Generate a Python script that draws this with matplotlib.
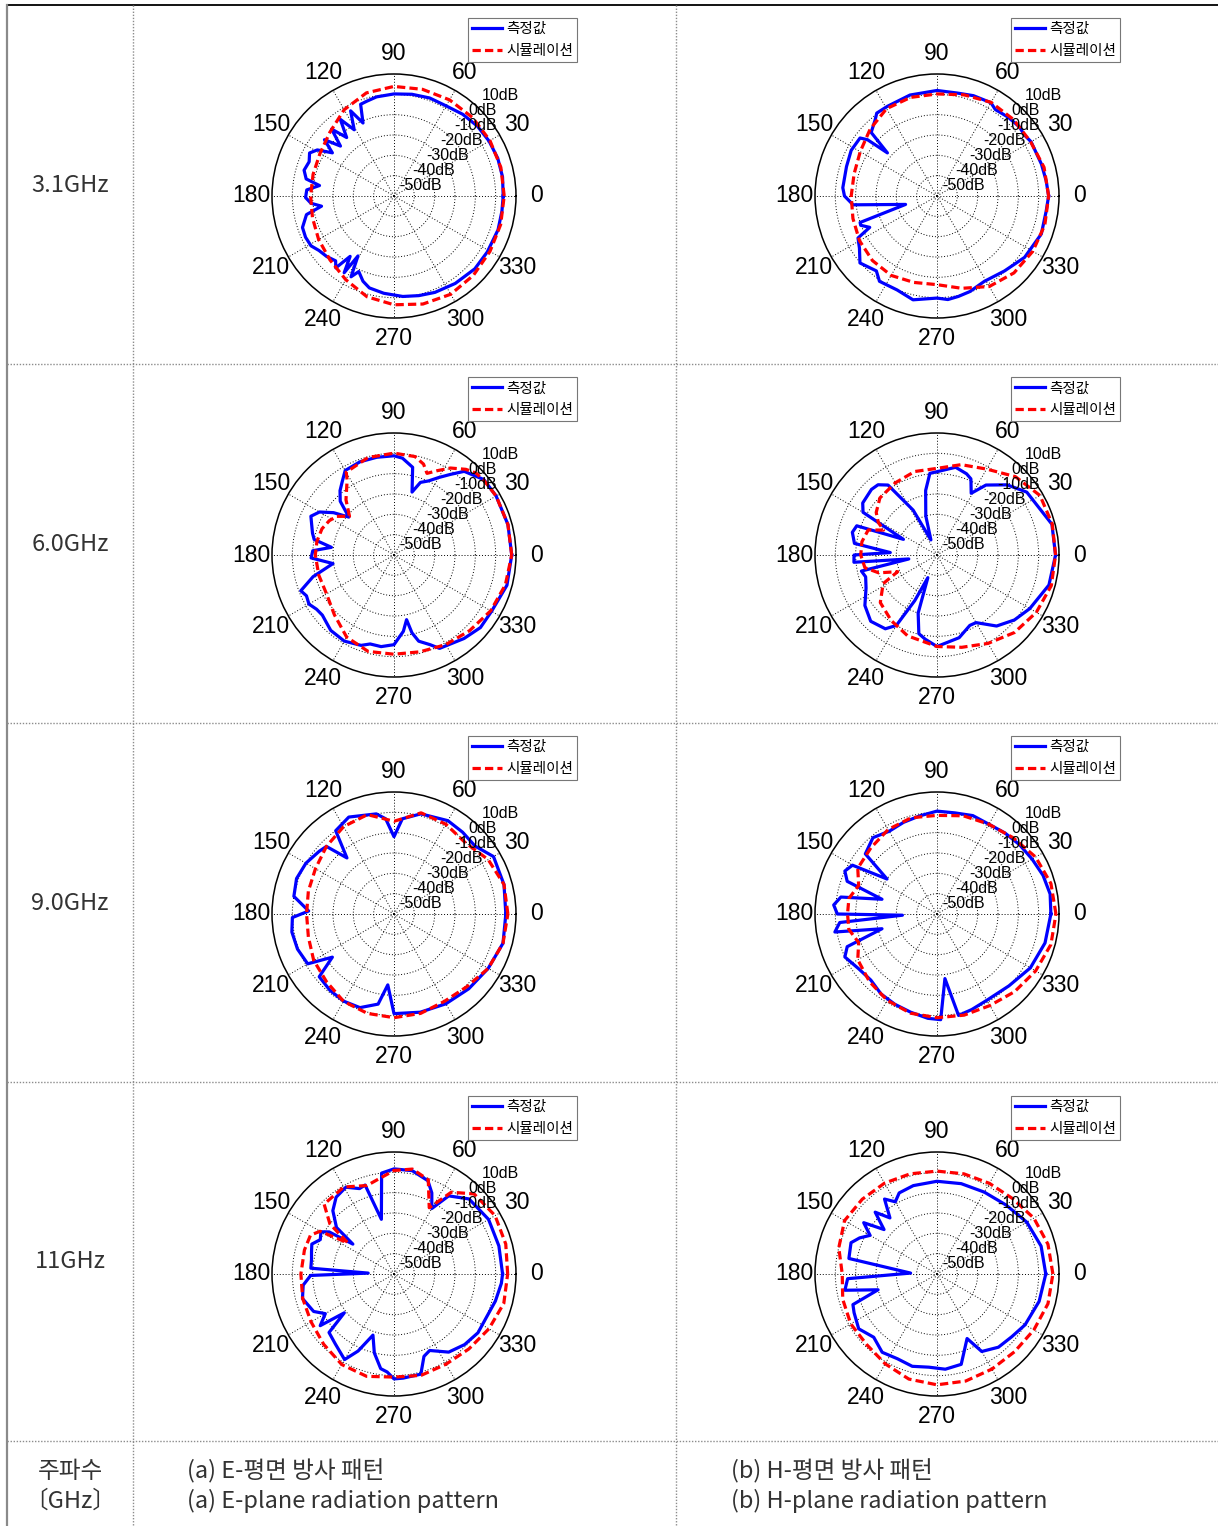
import numpy as np
import matplotlib.pyplot as plt
from matplotlib.lines import Line2D

# ---- measured / simulated patterns (angle in deg, gain in dB) ----------
# E-plane, 3.1 GHz
e31_meas_ang = [0, 10, 20, 30, 40, 50, 60, 70, 80, 90, 100, 106, 110, 113, 117, 121, 125, 129, 133,
                137, 141, 145, 149, 153, 158, 164, 169, 172, 176, 181, 185, 188, 192, 199, 205, 211,
                216, 222, 228, 231, 234, 237, 239, 242, 245, 250, 255, 264, 275, 284, 293, 305, 318,
                329, 342, 352]
e31_meas_db = [3.7, 4.2, 4.3, 4.0, 3.5, 2.5, 1.2, 1.3, 0.8, 0.2, -0.5, -1.5, -2, -11, -3, -12, -4,
               -13, -5, -14, -6, -13, -6, -3.4, -5, -4, -6, -13, -7, -6.5, -9, -14, -6, -2.4, -2,
               -2.4, -4.4, -5.5, -7.1, -4.5, -13.3, -5, -15.6, -5, -9, -5.4, -3.2, -1.9, -0.4, 0.5,
               1.5, 2.5, 3.5, 3.5, 3.8, 3.6]
e31_sim_ang = [0, 15, 30, 45, 60, 75, 90, 105, 120, 135, 150, 165, 180, 195, 210, 225, 240, 255,
               270, 285, 300, 315, 330, 345]
e31_sim_db = [4.2, 4.4, 4.5, 4.6, 4.6, 4.3, 3.9, 2.5, -1, -5.5, -8, -8.8, -9, -8.5, -7.2, -5.5,
              -2.5, 1.3, 3.5, 5, 5.8, 5.2, 4.5, 4.3]

# H-plane, 3.1 GHz
h31_meas_ang = [0, 8, 17, 30, 35, 40, 48, 56, 60, 70, 79, 90, 105, 119, 126, 129, 136, 139, 141,
                143, 152, 162, 175, 180, 186, 195, 199, 201, 205, 208, 214, 221, 231, 236, 247,
                257, 270, 276, 282, 289, 299, 312, 325, 340, 352]
h31_meas_db = [4.9, 4.2, 3.7, 3.4, 2.4, 2.9, 2.2, 1.3, 3.0, 2.5, 1.6, 1.9, 1.4, 0.4, 0.4, -1.7, -5,
               -17.7, -6, -2.6, -2.2, -3.2, -3.5, -4.5, -8.5, -34, -10, -9.8, -13.5, -6, -4, 0.2,
               -2.6, 0.6, 0.2, 2.4, 0.2, 1.2, 0.5, -0.3, -2, -0.4, 2.6, 4.6, 4.2]
h31_sim_ang = [0, 15, 30, 45, 60, 75, 90, 105, 120, 135, 150, 165, 180, 195, 210, 225, 240, 255,
               270, 285, 300, 315, 330, 345]
h31_sim_db = [4.9, 4.5, 3.2, 3.2, 3.2, 1.5, 0.2, 0.2, -0.4, -3.5, -6.4, -7.8, -7.8, -7.2, -6,
              -5.1, -4.9, -6, -6.4, -3, 1.4, 3.5, 4.4, 4.9]

# E-plane, 6.0 GHz
e60_meas_ang = [0, 15, 30, 40, 50, 55, 60, 65, 70, 74, 78, 85, 90, 100, 110, 120, 125, 130, 135,
                140, 145, 150, 155, 165, 169, 173, 177, 182, 188, 195, 201, 205, 210, 215, 220,
                225, 230, 240, 250, 255, 262, 270, 277, 281, 283, 286, 292, 296, 310, 320, 330,
                345]
e60_meas_db = [7.9, 8, 8, 7.7, 3.7, -1.6, -6, -9.8, -12, -17.8, -5.9, -2.2, -1.2, -1.2, -1.2, -2,
               -5.7, -8.7, -12.6, -21, -13.7, -7.7, -4.9, -8.5, -10, -19, -10, -9.2, -19.7, -8.8,
               -0.9, -2.5, -1.7, -3.5, -4, -3, -1.6, -1.1, -2.7, -4.7, -4.5, -5.9, -12.2, -17.6,
               -10.7, -5.9, -2.4, 1.1, 3.6, 5.5, 5.4, 7.5]
e60_sim_ang = [0, 15, 30, 40, 45, 50, 57, 63, 68, 72, 78, 90, 105, 120, 122, 131, 139, 146, 152,
               160, 170, 180, 195, 210, 225, 240, 255, 270, 285, 300, 315, 330, 345]
e60_sim_db = [7.9, 8, 8, 7.5, 7, 5, 1, -3.5, -6.7, -3, -0.5, 0.1, -0.4, -3, -6.5, -14, -21, -16,
              -14, -12.3, -11.5, -11.3, -11.7, -11.7, -8.5, -3.4, -0.9, -1.2, -0.7, 0.9, 2.6, 4.9,
              6.7]

# H-plane, 6.0 GHz
h60_meas_ang = [0, 15, 29, 35, 45, 55, 61, 66, 70, 78, 85, 95, 100, 106, 112, 118, 125, 130, 135,
                145, 150, 155, 160, 165, 172, 177, 180, 185, 188, 192, 197, 205, 215, 225, 235,
                240, 244, 248, 252, 257, 262, 270, 285, 295, 300, 310, 320, 330, 345]
h60_meas_db = [8.3, 8.5, 4.5, 3.9, -1.2, -8, -15.3, -9, -7.5, -5.9, -8, -9.7, -17.8, -30, -42, -25,
               -8, -4.9, -4.4, -5.4, -8, -31.8, -8, -6.9, -9, -27, -9.2, -9, -36, -12, -13.3,
               -11.5, -6.7, -3.9, -5.7, -10, -25, -38, -20, -10.3, -8.2, -5, -7.9, -11.8, -11.6,
               -4.4, -0.3, 2.7, 7]
h60_sim_ang = [0, 15, 30, 45, 60, 75, 90, 105, 120, 135, 145, 151, 155, 160, 170, 180, 190, 197,
               203, 208, 220, 235, 250, 270, 285, 300, 315, 330, 345]
h60_sim_db = [8.3, 8.7, 8.5, 4.5, -1.2, -4, -7.4, -7.5, -9, -10.3, -13.5, -17, -21, -14, -12.5,
              -12.5, -14, -20, -29, -20, -13.6, -10.7, -7.7, -5, -3, 0.2, 3.9, 6.4, 8.2]

# E-plane, 9.0 GHz
e90_meas_ang = [0, 15, 30, 40, 50, 60, 75, 85, 90, 95, 100, 115, 125, 130, 135, 140, 150, 160,
                170, 178, 182, 190, 200, 210, 215, 220, 230, 240, 250, 260, 265, 270, 285, 300,
                315, 330, 345]
e90_meas_db = [5, 6, 6.5, 2, 2.5, 3, 1, -3, -12, -3, 0, 2.6, 0, -14, -3, -2, 0, 1, 0, -8, 0, 1,
               0.5, -1, -13, -2, -1, -0.5, -1, -5, -15, -1, 0, 1, 2, 3.5, 5.5]
e90_sim_ang = [0, 15, 30, 45, 60, 75, 90, 105, 120, 135, 150, 165, 180, 195, 210, 225, 240, 255,
               270, 285, 300, 315, 330, 345]
e90_sim_db = [6, 6, 3.5, -0.4, 1, 1.5, -4.4, 0.6, -0.4, -3, -5.4, -6.4, -7, -6.4, -4.4, -3, -0.4,
              0.6, 1, 0.6, -0.4, 0.6, 3.5, 5.5]

# H-plane, 9.0 GHz
h90_meas_ang = [0, 10, 20, 30, 40, 50, 60, 70, 80, 90, 100, 110, 120, 130, 140, 145, 150, 155, 160,
                165, 170, 175, 180, 182, 185, 190, 195, 200, 205, 215, 225, 235, 245, 255, 265,
                272, 277, 282, 290, 300, 315, 330, 345]
h90_meas_db = [6, 6.5, 5.5, 4, 3, 2, 1, 1.5, 0.5, 0.6, -1, -2, -3, -1, -4, -20, -2, 0, -3, -22,
               -2, 1, -1, -33, -2, 1, -22, -3, 0, -3, -4, -2, -1, 0, 1.5, 2, -18, 1, 0, -1, 0, 3, 5]
h90_sim_ang = [0, 15, 30, 45, 60, 75, 90, 105, 120, 135, 150, 160, 170, 180, 190, 200, 210, 225,
               240, 255, 270, 285, 300, 315, 330, 345]
h90_sim_db = [8.5, 8, 6, 3, 1, 0, -1.5, -1, -2, -4, -5, -9, -6, -6, -6, -9, -5, -3, -1, 0.5, 1,
              1.5, 2, 4, 6, 8]

# E-plane, 11 GHz
e11_meas_ang = [0, 15, 30, 45, 55, 60, 65, 70, 80, 90, 97, 103, 108, 112, 119, 127, 134, 141, 144,
                147, 150, 155, 160, 165, 170, 176, 178, 181, 187, 195, 205, 210, 215, 218, 222,
                230, 240, 245, 251, 256, 262, 266, 270, 275, 285, 290, 295, 305, 315, 325, 335,
                345, 355]
e11_meas_db = [3.4, 3.4, 3.7, 2.2, -3.1, -12.8, -6, -1.2, 1.6, 1.7, 0, -22.4, -4, -4.7, -1.2, -2.7,
               -6.7, -13.6, -25, -12, -8.5, -10, -7, -8, -8.8, -9, -37.3, -9, -5, -3.4, -6.4, -11,
               -5.7, -19, -7, -5.1, -1.4, -8.2, -18.2, -10, -3, -1.7, 1.6, 1.4, 1, -6.9, -8.5,
               -3.1, -0.9, 0.4, 0.2, 1.6, 3]
e11_sim_ang = [0, 15, 30, 45, 55, 62, 70, 80, 90, 100, 107, 120, 135, 142, 146, 150, 155, 165, 180,
               195, 210, 225, 240, 255, 270, 285, 300, 315, 330, 345]
e11_sim_db = [5.9, 6.9, 7.4, 5.7, -0.9, -13.1, -0.7, 2.4, 0.9, -2.9, -4.5, -0.6, -1.4, -10, -22.6,
              -8, -4.7, -4.4, -4.2, -3.5, -2.9, -1.1, 1.4, 2.1, 0.7, 1.6, 1.2, 2.1, 3.9, 5.9]

# H-plane, 11 GHz
h11_meas_ang = [0, 15, 30, 45, 60, 75, 90, 105, 115, 120, 125, 130, 135, 140, 145, 150, 155, 160,
                170, 178, 183, 190, 195, 200, 205, 215, 225, 235, 245, 255, 265, 275, 285, 295,
                300, 310, 320, 330, 345]
h11_meas_db = [3.5, 3, 1, -2, -3.5, -4, -4.4, -5, -6, -9, -5, -14, -7, -16, -6, -12, -8, -5, -6,
               -37, -6, -4, -20, -6, -5, -3, -6, -3, -4, -3, -4, -3, -4, -15, -6, -3, -2, 0, 2]
h11_sim_ang = [0, 15, 30, 45, 60, 75, 90, 105, 120, 135, 150, 165, 180, 195, 210, 225, 240, 255,
               270, 285, 300, 315, 330, 345]
h11_sim_db = [7, 6.5, 5, 2.5, 1.5, 1, 0.6, 1, 1.6, 2, 2.5, 0, -3.4, -2, -1, -1, 1, 3.5, 4.5, 4.5,
              4, 4, 5, 6.5]

freq_labels = ['3.1GHz', '6.0GHz', '9.0GHz', '11GHz']
legend_labels = ['측정값', '시뮬레이션']
ring_levels = [-50, -40, -30, -20, -10, 0, 10]

panels = [
    [(e31_meas_ang, e31_meas_db, e31_sim_ang, e31_sim_db),
     (h31_meas_ang, h31_meas_db, h31_sim_ang, h31_sim_db)],
    [(e60_meas_ang, e60_meas_db, e60_sim_ang, e60_sim_db),
     (h60_meas_ang, h60_meas_db, h60_sim_ang, h60_sim_db)],
    [(e90_meas_ang, e90_meas_db, e90_sim_ang, e90_sim_db),
     (h90_meas_ang, h90_meas_db, h90_sim_ang, h90_sim_db)],
    [(e11_meas_ang, e11_meas_db, e11_sim_ang, e11_sim_db),
     (h11_meas_ang, h11_meas_db, h11_sim_ang, h11_sim_db)],
]

# ---- layout (pixels) --------------------------------------------------
W, H = 1218, 1526
R = 122                       # polar radius
col_cx = [394, 937]
row_cy = [196, 555, 914, 1274]
row_lines = [364, 723, 1082, 1441]
row_label_y = [185, 544, 903, 1262]
KR = ['Noto Sans CJK KR', 'DejaVu Sans']
ARIAL = ['Liberation Sans', 'DejaVu Sans']

fig = plt.figure(figsize=(W / 100, H / 100), dpi=100)


def fx(x):
    return x / W


def fy(y):
    return 1 - y / H


def hline(y, x0, x1, **kw):
    fig.add_artist(Line2D([fx(x0), fx(x1)], [fy(y), fy(y)], transform=fig.transFigure, **kw))


def vline(x, y0, y1, **kw):
    fig.add_artist(Line2D([fx(x), fx(x)], [fy(y0), fy(y1)], transform=fig.transFigure, **kw))


dot = dict(color='#8c8c8c', lw=1.0, ls=(0, (1, 1.2)))
hline(5, 7, W, color='black', lw=1.3)
vline(7, 5, H, color='#8a8a8a', lw=1.6)
for x in (133, 676):
    vline(x, 5, H, **dot)
for y in row_lines:
    hline(y, 7, W, **dot)


def polar_panel(cx, cy, m_ang, m_db, s_ang, s_db):
    ax = fig.add_axes([fx(cx - R), fy(cy + R), 2 * R / W, 2 * R / H], projection='polar')
    ax.set_rlim(-50, 10)
    ax.set_thetagrids(range(0, 360, 30), [str(a) for a in range(0, 360, 30)],
                      fontsize=16.5, family=ARIAL)
    ax.tick_params(axis='x', pad=4)
    ax.set_rgrids(ring_levels[1:-1], labels=[''] * (len(ring_levels) - 2))
    ax.grid(True, color='black', lw=0.7, ls=(0, (1, 2)))
    ax.spines['polar'].set_linewidth(1.1)

    th = np.deg2rad(list(m_ang) + [m_ang[0]])
    ax.plot(th, list(m_db) + [m_db[0]], color='#0000ff', lw=2.3, label=legend_labels[0], zorder=3)
    th = np.deg2rad(list(s_ang) + [s_ang[0]])
    ax.plot(th, list(s_db) + [s_db[0]], color='#ff0000', lw=2.3, ls=(0, (2.6, 1.3)),
            label=legend_labels[1], zorder=4)

    for lv in ring_levels:
        ax.annotate(f'{lv}dB', xy=(np.deg2rad(47), lv), xytext=(3.5, 2.5),
                    textcoords='offset points', ha='left', va='bottom', fontsize=11.5,
                    family=ARIAL, annotation_clip=False, zorder=6)

    leg = ax.legend(loc='upper left', bbox_to_anchor=(fx(cx + 74), fy(cy - 178)),
                    bbox_transform=fig.transFigure, prop={'family': KR, 'size': 10.5},
                    fancybox=False, edgecolor='#777777', framealpha=1, borderpad=0.3,
                    handlelength=2.0, handletextpad=0.3, labelspacing=0.5, borderaxespad=0)
    leg.get_frame().set_linewidth(0.8)
    return ax


for r, cy in enumerate(row_cy):
    for c, cx in enumerate(col_cx):
        polar_panel(cx, cy, *panels[r][c])
    fig.text(fx(70), fy(row_label_y[r]), freq_labels[r], ha='center', va='center',
             fontsize=17, family=KR, color='#333333')

# bottom caption row
txt = dict(fontsize=17, family=KR, color='#333333', va='center')
fig.text(fx(70), fy(1471), '주파수', ha='center', **txt)
fig.text(fx(70), fy(1501), '〔GHz〕', ha='center', **txt)
fig.text(fx(187), fy(1471), '(a) E-평면 방사 패턴', ha='left', **txt)
fig.text(fx(187), fy(1501), '(a) E-plane radiation pattern', ha='left', **txt)
fig.text(fx(731), fy(1471), '(b) H-평면 방사 패턴', ha='left', **txt)
fig.text(fx(731), fy(1501), '(b) H-plane radiation pattern', ha='left', **txt)

fig.savefig('out.png', dpi=100)
